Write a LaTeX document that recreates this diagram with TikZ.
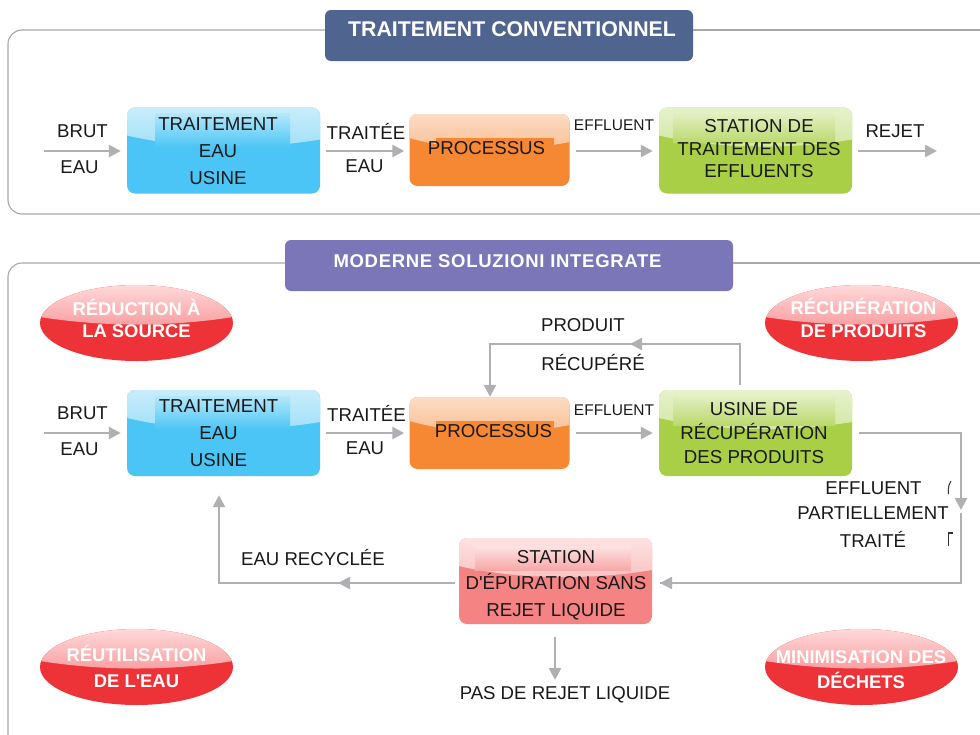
\documentclass[tikz,border=0pt]{standalone}
\usepackage{fontspec}
\setmainfont{Liberation Sans}[Ligatures=TeXOff]
\usetikzlibrary{arrows.meta,shapes.geometric}
\definecolor{linegray}{HTML}{B0B0B4}
\definecolor{framegray}{HTML}{A8A8A8}
\definecolor{bannerA}{HTML}{4F658F}
\definecolor{bannerB}{HTML}{7B76B8}
\definecolor{redbase}{HTML}{EE3338}
\definecolor{boxblue}{HTML}{4BC5F5}
\definecolor{boxbluel}{HTML}{C8EDFB}
\definecolor{boxorange}{HTML}{F78833}
\definecolor{boxorangel}{HTML}{FCDCC6}
\definecolor{boxgreen}{HTML}{A8CF45}
\definecolor{boxgreenl}{HTML}{E6F2CC}
\definecolor{boxred}{HTML}{F58383}
\definecolor{boxredl}{HTML}{FDE2E2}
\tikzset{
  flow/.style={line width=2.5pt,linegray,-{Triangle[length=12pt,width=12pt]}},
  plainflow/.style={line width=2.5pt,linegray},
  frameline/.style={line width=1.1pt,framegray,rounded corners=14pt},
  lab/.style={font=\fontsize{18.6}{22}\selectfont,inner sep=0pt,text=black!90,align=center},
  smalllab/.style={font=\fontsize{15.5}{19}\selectfont,inner sep=0pt,text=black!90},
  banner/.style={rounded corners=6pt,inner sep=0pt},
  bannertext/.style={inner sep=0pt,text=white},
  seal/.style={ellipse,fill=redbase,inner sep=0pt,minimum width=193pt,minimum height=76pt,
    path picture={
        \shade[top color=red!15!white,bottom color=redbase!72!white]
          (-96.5,-38) -- (96.5,-38) -- (96.5,-6) .. controls (33.5,4) and (-33.5,4) .. (-96.5,-6) -- cycle;
      }},
  sealtext/.style={inner sep=0pt,text=white,align=center,font=\bfseries\fontsize{18.4}{\ls}\selectfont},
}
\def\ls{22}
\def\gpatch{}
% name, centre, w, h, base, light, gloss depth, text centre, text
\newcommand{\glossbox}[9]{%
  \node[rounded corners=8pt,fill=#5,minimum width=#3,minimum height=#4,inner sep=0pt,
    path picture={
        \shade[sharp corners,top color=#6,bottom color=#5!78!white]
          ({-(#3)/2},{-(#4)/2}) -- ({(#3)/2},{-(#4)/2}) -- ({(#3)/2},{-(#4)/2+#7+4})
          .. controls ({0.2*#3},{-(#4)/2+#7+14}) and ({-0.2*#3},{-(#4)/2+#7+14}) .. ({-(#3)/2},{-(#4)/2+#7}) -- cycle;
        \gpatch
      }] (#1) at (#2) {};
  \node[lab,font=\fontsize{18.7}{\ls}\selectfont] (#1t) at (#8) {#9};}
\begin{document}
\begin{tikzpicture}[x=1pt,y=-1pt]
\useasboundingbox (0,0) rectangle (980,734);
\fill[white] (0,0) rectangle (980,734);

% frames
\coordinate (f1b) at (8,30); \coordinate (f1c) at (8,214); \coordinate (f1d) at (980,214);
\coordinate (f1f) at (980,30);
\coordinate (f2b) at (8,263); \coordinate (f2c) at (8,750); \coordinate (f2f) at (980,263);

% banners
\node[banner,fill=bannerA,minimum width=368pt,minimum height=51pt] (t1) at (509,35.5) {};
\node[bannertext,font=\bfseries\fontsize{21.3}{24}\selectfont] (t1t) at (512,29.5) {TRAITEMENT CONVENTIONNEL};
\node[banner,fill=bannerB,minimum width=448pt,minimum height=51pt] (t2) at (509,265.5) {};
\node[bannertext,font=\bfseries\fontsize{18.5}{24}\selectfont\addfontfeature{LetterSpace=3.8}] (t2t) at (497.5,261.5) {MODERNE SOLUZIONI INTEGRATE};
\draw[frameline] (t1.west|-f1b) -- (f1b) -- (f1c) -- (f1d);
\draw[frameline] (t1.east|-f1f) -- (f1f);
\draw[frameline] (t2.west|-f2b) -- (f2b) -- (f2c);
\draw[frameline] (t2.east|-f2f) -- (f2f);

% seals
\node[seal] (s1) at (136.5,323) {};
\node[seal] (s2) at (861.5,323) {};
\node[seal] (s3) at (136.5,667) {};
\node[seal] (s4) at (861.5,667) {};
\def\ls{22.5}
\node[sealtext] (s1t) at (136.5,318.5) {RÉDUCTION À\\LA SOURCE};
\node[sealtext] (s2t) at (863.5,318) {RÉCUPÉRATION\\DE PRODUITS};
\def\ls{26}
\node[sealtext] (s3t) at (136.5,666.5) {RÉUTILISATION\\DE L'EAU};
\def\ls{24.5}
\node[sealtext] (s4t) at (861,669.5) {MINIMISATION DES\\DÉCHETS};

% --- top row
\def\ls{27}
\def\gpatch{\shade[sharp corners,top color=boxbluel!85!boxblue,bottom color=boxblue] (-68.5,-37) rectangle (66.5,-3);}
\glossbox{a1}{223.5,150.5}{193}{86}{boxblue}{boxbluel}{28}{218,151}{TRAITEMENT\\EAU\\USINE}
\def\gpatch{\fill[sharp corners,boxorange] (-54,-12) rectangle (64,9);}
\glossbox{a2}{489.5,150}{160}{72}{boxorange}{boxorangel}{24}{486.5,148.5}{PROCESSUS}
\def\ls{22.5}
\def\gpatch{\shade[sharp corners,top color=boxgreenl!92!boxgreen,bottom color=boxgreen!78!white] (-82.5,-37) rectangle (79.5,-8);}
\glossbox{a3}{755.5,150.5}{193}{86}{boxgreen}{boxgreenl}{28}{759,149}{STATION DE\\TRAITEMENT DES\\EFFLUENTS}

\coordinate (in1) at (44,151);
\coordinate (out1) at (937,151);
\draw[flow] (in1) -- ([xshift=-6pt]a1.west|-in1);
\draw[flow] ([xshift=6pt]a1.east|-in1) -- ([xshift=-5pt]a2.west|-in1);
\draw[flow] ([xshift=6pt]a2.east|-in1) -- ([xshift=-6pt]a3.west|-in1);
\draw[flow] ([xshift=6pt]a3.east|-in1) -- (out1);

\node[lab] (l1) at (82.5,131) {BRUT};
\node[lab] (l2) at (79.5,167) {EAU};
\node[lab] (l3) at (366,131) {TRAITÉE};
\node[lab] (l4) at (364.5,166) {EAU};
\node[smalllab] (l5) at (614,125.5) {EFFLUENT};
\node[lab] (l6) at (895,131) {REJET};

% --- lower row
\def\ls{27}
\def\gpatch{\shade[sharp corners,top color=boxbluel!85!boxblue,bottom color=boxblue] (-68.5,-37) rectangle (66.5,-3);}
\glossbox{b1}{223.5,433}{193}{86}{boxblue}{boxbluel}{28}{218.5,433.5}{TRAITEMENT\\EAU\\USINE}
\def\gpatch{\fill[sharp corners,boxorange] (-54,-12) rectangle (64,9);}
\glossbox{b2}{489.5,433}{160}{72}{boxorange}{boxorangel}{24}{493.5,431.5}{PROCESSUS}
\def\ls{24}
\def\gpatch{\shade[sharp corners,top color=boxgreenl!92!boxgreen,bottom color=boxgreen!78!white] (-82.5,-37) rectangle (79.5,-8);}
\glossbox{b3}{755.5,433}{193}{86}{boxgreen}{boxgreenl}{28}{754,433}{USINE DE\\RÉCUPÉRATION\\DES PRODUITS}
\def\ls{26.5}
\def\gpatch{\shade[sharp corners,top color=boxredl,bottom color=boxred!70!white] (-80.5,-35) rectangle (75.5,-11);}
\glossbox{b4}{555.5,581}{193}{86}{boxred}{boxredl}{28}{556,585}{STATION\\D'ÉPURATION SANS\\REJET LIQUIDE}

\coordinate (in2) at (44,433);
\draw[flow] (in2) -- ([xshift=-6pt]b1.west);
\draw[flow] ([xshift=6pt]b1.east) -- ([xshift=-5pt]b2.west);
\draw[flow] ([xshift=6pt]b2.east) -- ([xshift=-6pt]b3.west);

% product recovery loop
\coordinate (r1) at (740,344);
\coordinate (r2) at (630,344);
\coordinate (r3) at (490,344);
\draw[plainflow,line join=miter] ([yshift=5pt]b3.north-|r1) -- (r1) -- (r3) -- ([yshift=5pt]r3|-b2.north);
\draw[flow] (645,344) -- (r2);
\draw[flow] (490,380) -- (r3|-b2.north);

% partially treated effluent
\coordinate (c1) at (961,433);
\coordinate (c2) at (961,510);
\coordinate (c3) at (961,513);
\coordinate (c4) at (961,583);
\coordinate (c5) at (660,583);
\draw[plainflow,line join=miter] ([xshift=7pt]b3.east) -- (c1) -- (961,500);
\draw[flow] (961,498) -- (c2);
\draw[plainflow,line join=miter] (c3) -- (c4) -- (c5);
\draw[flow] (680,583) -- (c5);

% recycled water
\coordinate (d1) at (219,583);
\coordinate (d2) at (338,583);
\draw[plainflow,line join=miter] ([xshift=-4pt]b4.west|-d1) -- (d1) -- (219,510);
\draw[flow] (219,515) -- ([yshift=-19pt]d1|-b1.south);
\draw[flow] (358,583) -- (d2);

% no liquid discharge
\coordinate (e1) at (555,680);
\draw[flow] ([yshift=-13pt]b4.south-|e1) -- (e1);

\node[lab] (m1) at (82.5,413) {BRUT};
\node[lab] (m2) at (79.5,449) {EAU};
\node[lab] (m3) at (366.5,413) {TRAITÉE};
\node[lab] (m4) at (365,448) {EAU};
\node[smalllab] (m5) at (614,410.5) {EFFLUENT};
\node[lab] (m6) at (583,325.5) {PRODUIT};
\node[lab] (m7) at (593,363) {RÉCUPÉRÉ};
\node[lab] (m8) at (873.5,488.5) {EFFLUENT};
\node[lab] (m9) at (873,513.5) {PARTIELLEMENT};
\node[lab] (m10) at (873,539) {TRAITÉ};
\node[lab] (m11) at (313,557.5) {EAU RECYCLÉE};
\node[lab] (m12) at (565,695) {PAS DE REJET LIQUIDE};

% clipped glyph remnants beside the effluent label
\draw[black!80,line width=1pt] (951,481) .. controls (948.5,485) and (948,488) .. (948.5,494);
\draw[black!80,line width=1.2pt] (948.5,546) -- (948.5,533) -- (953,533);
\end{tikzpicture}
\end{document}
